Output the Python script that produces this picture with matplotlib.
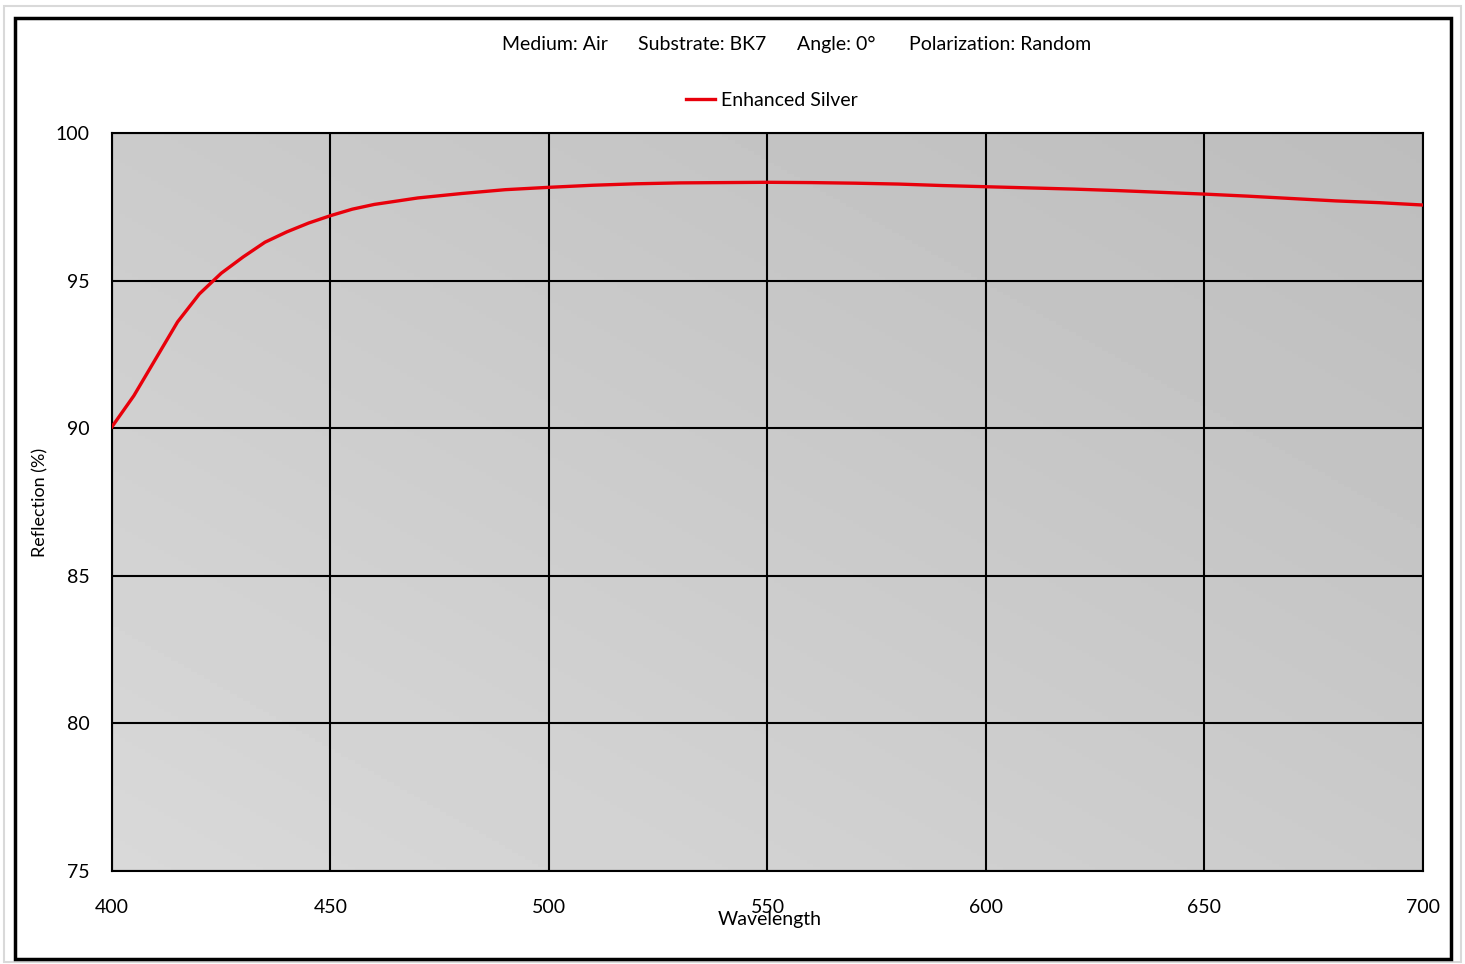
import matplotlib.pyplot as plt
import numpy as np
from matplotlib.patches import Rectangle

wavelength = [400, 405, 410, 415, 420, 425, 430, 435, 440, 445, 450, 455, 460,
              470, 480, 490, 500, 510, 520, 530, 540, 550, 560, 570, 580, 590,
              600, 610, 620, 630, 640, 650, 660, 670, 680, 690, 700]
reflection = [90.05, 91.1, 92.35, 93.6, 94.55, 95.25, 95.8, 96.3, 96.65, 96.95,
              97.2, 97.42, 97.58, 97.8, 97.95, 98.08, 98.16, 98.23, 98.28, 98.31,
              98.32, 98.33, 98.32, 98.3, 98.27, 98.22, 98.18, 98.14, 98.1, 98.05,
              97.99, 97.93, 97.86, 97.78, 97.7, 97.64, 97.56]
header = ["Medium: Air", "Substrate: BK7", "Angle: 0°", "Polarization: Random"]
header_x = [502, 638, 797, 909]

plt.rcParams['font.family'] = ['Lato', 'DejaVu Sans']

W, H = 1465, 964
fig = plt.figure(figsize=(W / 100, H / 100), dpi=100)

# outer frames
fig.patches.append(Rectangle((4 / W, 1 - 962 / H), 1457 / W, 956 / H, transform=fig.transFigure,
                             fill=False, edgecolor='#d9d9d9', linewidth=1.5))
fig.patches.append(Rectangle((15 / W, 1 - 959 / H), 1436 / W, 941 / H, transform=fig.transFigure,
                             fill=False, edgecolor='black', linewidth=2.5))

ax = fig.add_axes([112 / W, 1 - 871 / H, (1423 - 112) / W, (871 - 133) / H])

# gradient background: lighter bottom-left, darker top-right
gx, gy = np.meshgrid(np.linspace(0, 1, 200), np.linspace(0, 1, 200))
shade = 0.85 - 0.11 * (gx + gy) / 2
ax.imshow(shade, extent=[0, 1, 0, 1], transform=ax.transAxes, origin='lower',
          cmap='gray', vmin=0, vmax=1, aspect='auto', zorder=0)

ax.plot(wavelength, reflection, color='#e8000b', linewidth=2.4, label='Enhanced Silver', zorder=3)

ax.set_xlim(400, 700)
ax.set_ylim(75, 100)
ax.set_xticks(range(400, 701, 50))
ax.set_yticks(range(75, 101, 5))
ax.grid(True, color='black', linewidth=1.5, zorder=2)
ax.set_axisbelow(False)
for s in ax.spines.values():
    s.set_linewidth(1.5)
ax.tick_params(length=0, labelsize=14)
ax.tick_params(axis='x', pad=20)
ax.tick_params(axis='y', pad=16)

fig.text(770 / W, 1 - 919 / H, "Wavelength", ha='center', va='center', fontsize=14)
fig.text(40 / W, 1 - 502 / H, "Reflection (%)", ha='center', va='center', rotation=90, fontsize=13)

for t, x in zip(header, header_x):
    fig.text(x / W, 1 - 44 / H, t, ha='left', va='center', fontsize=14)

fig.legend(loc='center', bbox_to_anchor=(772 / W, 1 - 100 / H), frameon=False,
           fontsize=14, handlelength=1.5, handletextpad=0.3)

fig.savefig('out.png', dpi=100)
